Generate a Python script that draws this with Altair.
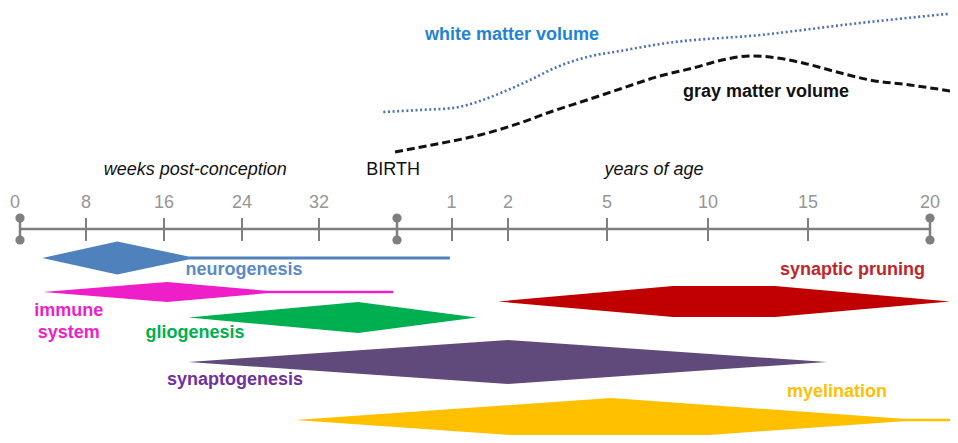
import altair as alt
import pandas as pd

# ---------------- data (x = age in weeks post-conception; birth = 40 wk, 1 y = 92 wk, ...)
tick_labels = ["0", "8", "16", "24", "32", "1", "2", "5", "10", "15", "20"]
tick_weeks = [0, 8, 16, 24, 32, 92, 144, 300, 560, 820, 1080]
tick_label_weeks = [-0.6, 8, 16, 24, 32, 91.5, 144, 300, 560, 820, 1080]
cap_weeks = [0, 40, 1080]          # start, birth, 20 years

# process intensity profiles (relative 0-10)
neuro_wk = [2.7, 11.2, 18.5, 90]
neuro_int = [0, 7.5, 0.7, 0.7]
immune_wk = [2.8, 16.3, 26.6, 39.6]
immune_int = [0, 4.5, 0.55, 0.55]
glio_wk = [18.5, 36.0, 115.2]
glio_int = [0, 7.0, 0]
synapto_wk = [18.5, 144, 860.5]
synapto_int = [0, 10, 0]
pruning_wk = [134.7, 469.9, 734.2, 1122.6]
pruning_int = [0, 7.0, 7.0, 0]
myelin_wk = [29.5, 310.3, 1022.5, 1139.7]
myelin_int = [0, 10, 0.55, 0.55]

# brain volume curves (arbitrary units)
white_wk = [38.6, 61.7, 92.9, 118, 139.4, 178.7, 221.2, 268.5, 333.5, 454.5, 695.2, 930.8, 1137.5]
white_vol = [323, 325, 327, 334, 343, 355, 368, 378, 384, 392, 400, 412, 422]
gray_wk = [39.8, 77.8, 118, 162.9, 214.9, 268.5, 333.5, 436.4, 521.4, 609.4, 669.2, 721.2, 807,
           881.8, 952.1, 1037.4, 1137.5]
gray_vol = [283, 291, 300, 312, 324, 335, 346, 359, 367, 376, 379, 378, 372, 363, 355, 350, 343]

process_names = ["neurogenesis", "immune system", "gliogenesis", "synaptogenesis",
                 "synaptic pruning", "myelination"]

# ---------------- layout / style
FONT = "Liberation Sans"
lane = {"neurogenesis": 177, "immune system": 143, "gliogenesis": 117.5,
        "synaptogenesis": 73, "synaptic pruning": 133.5, "myelination": 15}
fill = {"neurogenesis": "#4f81bd", "immune system": "#ee1fc8", "gliogenesis": "#00b050",
        "synaptogenesis": "#604a7b", "synaptic pruning": "#c00000", "myelination": "#ffc000"}
K = 2.2
AXIS_Y, CAP_TOP, CAP_BOT = 206, 217, 195

xs = alt.Scale(domain=[0, 8, 16, 24, 32, 40, 92, 144, 300, 560, 820, 1080],
               range=[12, 78, 156, 234, 311, 389, 444, 500, 599, 700, 800, 922],
               nice=False, zero=False)
ys = alt.Scale(domain=[0, 427], nice=False, zero=False)

def X(f="wk"):
    return alt.X(f"{f}:Q", scale=xs, axis=None)

def Y(f="y"):
    return alt.Y(f"{f}:Q", scale=ys, axis=None)

# ---------------- shapes (one area layer per process)
profiles = {
    "neurogenesis": (neuro_wk, neuro_int),
    "immune system": (immune_wk, immune_int),
    "gliogenesis": (glio_wk, glio_int),
    "synaptogenesis": (synapto_wk, synapto_int),
    "synaptic pruning": (pruning_wk, pruning_int),
    "myelination": (myelin_wk, myelin_int),
}
shape_layers = []
for p in process_names:
    wk, it = profiles[p]
    df = pd.DataFrame({"wk": wk,
                       "top": [lane[p] + v * K for v in it],
                       "bot": [lane[p] - v * K for v in it]})
    shape_layers.append(
        alt.Chart(df).mark_area(interpolate="linear", color=fill[p], opacity=1,
                                orient="vertical").encode(
            x=X(),
            y=alt.Y("top:Q", scale=ys, axis=None, stack=None),
            y2="bot:Q",
        )
    )

# ---------------- time axis
axis_df = pd.DataFrame({"wk": [cap_weeks[0]], "wk2": [cap_weeks[-1]], "y": [AXIS_Y]})
axis_line = alt.Chart(axis_df).mark_rule(color="#7f7f7f", strokeWidth=2.5).encode(
    x=X(), x2="wk2:Q", y=Y())

ticks_df = pd.DataFrame({"wk": [w for w in tick_weeks if w not in cap_weeks]})
ticks_df["y"] = CAP_BOT - 1
ticks_df["y2"] = CAP_TOP
ticks = alt.Chart(ticks_df).mark_rule(color="#7f7f7f", strokeWidth=2).encode(
    x=X(), y=Y(), y2="y2:Q")

caps_df = pd.DataFrame({"wk": cap_weeks, "y": [CAP_BOT] * 3, "y2": [CAP_TOP] * 3})
cap_lines = alt.Chart(caps_df).mark_rule(color="#7f7f7f", strokeWidth=2.5).encode(
    x=X(), y=Y(), y2="y2:Q")
dots_df = pd.DataFrame({"wk": cap_weeks * 2, "y": [CAP_BOT] * 3 + [CAP_TOP] * 3})
cap_dots = alt.Chart(dots_df).mark_circle(color="#7f7f7f", size=85, opacity=1).encode(
    x=X(), y=Y())

tl_df = pd.DataFrame({"wk": tick_label_weeks, "label": tick_labels, "y": 232})
tick_text = alt.Chart(tl_df).mark_text(font=FONT, fontSize=18, color="#969696",
                                       baseline="middle", align="center").encode(
    x=X(), y=Y(), text="label:N")

hdr_it_df = pd.DataFrame({"wk": [19.2, 421], "y": [265, 265],
                          "label": ["weeks post-conception", "years of age"]})
hdr_italic = alt.Chart(hdr_it_df).mark_text(font=FONT, fontSize=18, fontStyle="italic",
                                            color="#111111", baseline="middle").encode(
    x=X(), y=Y(), text="label:N")
hdr_birth = alt.Chart(pd.DataFrame({"wk": [39.6], "y": [265], "label": ["BIRTH"]})).mark_text(
    font=FONT, fontSize=18, color="#111111", baseline="middle").encode(x=X(), y=Y(), text="label:N")

# ---------------- volume curves
white_df = pd.DataFrame({"wk": white_wk, "y": white_vol})
gray_df = pd.DataFrame({"wk": gray_wk, "y": gray_vol})
white_line = alt.Chart(white_df).mark_line(interpolate="monotone", color="#4a72b4",
                                           strokeWidth=2.6, strokeDash=[2, 2.6],
                                           strokeCap="butt").encode(x=X(), y=Y())
gray_line = alt.Chart(gray_df).mark_line(interpolate="monotone", color="#111111",
                                         strokeWidth=3, strokeDash=[8, 4]).encode(x=X(), y=Y())

# ---------------- labels
left_labels = pd.DataFrame({
    "label": ["neurogenesis", "gliogenesis", "synaptogenesis", "myelination",
              "white matter volume", "gray matter volume"],
    "wk": [18.2, 14.1, 16.3, 765.4, 66.5, 495.6],
    "y": [165, 102, 55, 43, 400, 343],
    "col": ["#5a8ac6", "#00b050", "#7030a0", "#ffc000", "#1f83d6", "#111111"],
})
lbl_left = alt.Chart(left_labels).mark_text(font=FONT, fontSize=18, fontWeight="bold",
                                            align="left", baseline="middle").encode(
    x=X(), y=Y(), text="label:N", color=alt.Color("col:N", scale=None))
lbl_right = alt.Chart(pd.DataFrame({"label": ["synaptic pruning"], "wk": [1069.3], "y": [165],
                                    "col": ["#c0262b"]})).mark_text(
    font=FONT, fontSize=18, fontWeight="bold", align="right", baseline="middle").encode(
    x=X(), y=Y(), text="label:N", color=alt.Color("col:N", scale=None))
lbl_immune = alt.Chart(pd.DataFrame({"label": ["immune\nsystem"], "wk": [5.9], "y": [124],
                                     "col": ["#ee1fc8"]})).mark_text(
    font=FONT, fontSize=18, fontWeight="bold", align="center", baseline="middle",
    lineBreak="\n", lineHeight=22).encode(
    x=X(), y=Y(), text="label:N", color=alt.Color("col:N", scale=None))

chart = alt.layer(
    *shape_layers, axis_line, ticks, cap_lines, cap_dots, tick_text, hdr_italic, hdr_birth,
    white_line, gray_line, lbl_left, lbl_right, lbl_immune,
).properties(
    width=942, height=427, padding=0, autosize=alt.AutoSizeParams(type="none"),
    background="white",
).configure_view(stroke=None)

chart.save("out.html", embed_options={"renderer": "svg", "actions": False})
